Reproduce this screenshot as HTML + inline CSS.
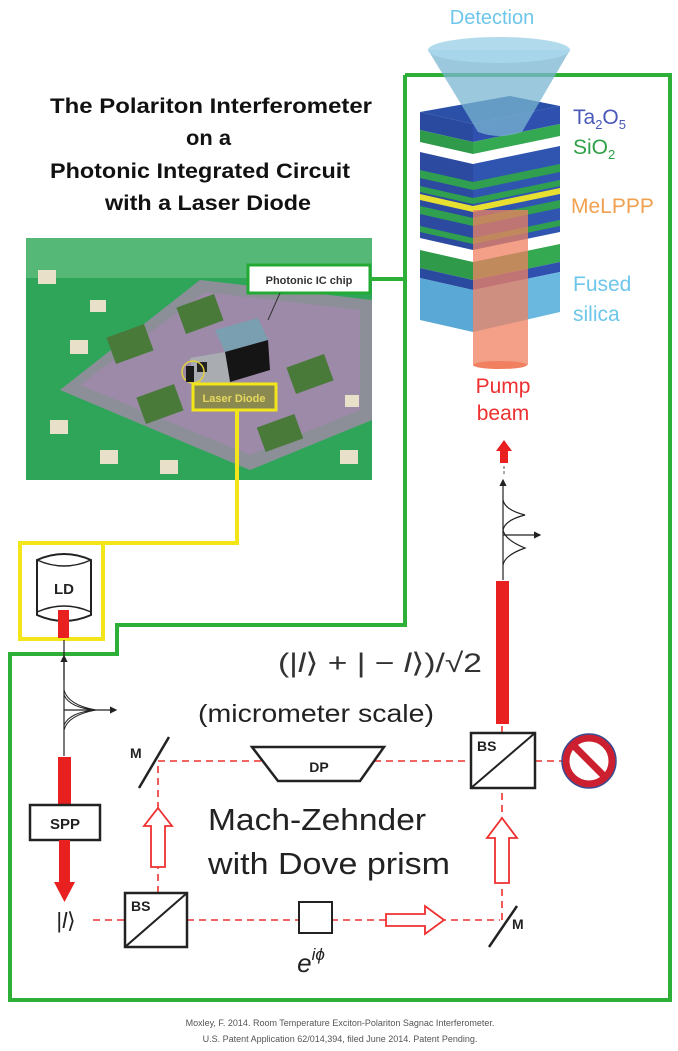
<!DOCTYPE html>
<html><head><meta charset="utf-8"><style>
html,body{margin:0;padding:0;background:#fff;}
svg{display:block;}
text{font-family:"Liberation Sans",sans-serif;}
</style></head><body>
<svg width="678" height="1051" viewBox="0 0 678 1051" xmlns="http://www.w3.org/2000/svg">
<defs>
<marker id="ah" markerWidth="6" markerHeight="6" refX="5" refY="3" orient="auto"><path d="M0,0 L6,3 L0,6 z" fill="#222"/></marker>
</defs>
<!-- Title -->
<g font-weight="bold" font-size="21" fill="#111">
<text x="50" y="113" textLength="322" lengthAdjust="spacingAndGlyphs">The Polariton Interferometer</text>
<text x="186" y="145" textLength="45" lengthAdjust="spacingAndGlyphs">on a</text>
<text x="50" y="178" textLength="300" lengthAdjust="spacingAndGlyphs">Photonic Integrated Circuit</text>
<text x="105" y="210" textLength="206" lengthAdjust="spacingAndGlyphs">with a Laser Diode</text>
</g>

<!-- Photo -->
<rect x="26" y="238" width="346" height="242" fill="#2fa55a"/>
<rect x="26" y="238" width="346" height="40" fill="#6fc48a" opacity="0.6"/>
<polygon points="60,390 200,280 372,300 372,420 250,470" fill="#8d8f98"/>
<polygon points="80,385 205,292 360,310 360,410 250,455" fill="#9c8aa8"/>
<g fill="#4a7a3a">
<rect x="110" y="330" width="40" height="28" transform="rotate(-20 130 344)"/>
<rect x="180" y="300" width="40" height="28" transform="rotate(-20 200 314)"/>
<rect x="290" y="360" width="40" height="28" transform="rotate(-20 310 374)"/>
<rect x="140" y="390" width="40" height="28" transform="rotate(-20 160 404)"/>
<rect x="260" y="420" width="40" height="26" transform="rotate(-20 280 433)"/>
</g>
<g fill="#e8e0c8">
<rect x="38" y="270" width="18" height="14"/><rect x="70" y="340" width="18" height="14"/>
<rect x="50" y="420" width="18" height="14"/><rect x="100" y="450" width="18" height="14"/>
<rect x="160" y="460" width="18" height="14"/><rect x="340" y="450" width="18" height="14"/>
<rect x="345" y="395" width="14" height="12"/><rect x="90" y="300" width="16" height="12"/>
</g>
<polygon points="215,330 258,318 268,340 225,352" fill="#7a9fb0"/>
<polygon points="225,352 268,340 270,370 230,382" fill="#151515"/>
<polygon points="190,358 225,352 230,382 195,388" fill="#a9adb2"/>
<rect x="197" y="362" width="10" height="10" fill="#222"/>
<circle cx="193" cy="372" r="11" fill="none" stroke="#e0d040" stroke-width="1.5"/>
<rect x="186" y="366" width="8" height="16" fill="#1a1a1a"/>
<rect x="248" y="265" width="122" height="28" fill="#fff" stroke="#22aa33" stroke-width="3"/>
<text x="309" y="284" font-size="11" font-weight="bold" text-anchor="middle" fill="#333">Photonic IC chip</text>
<line x1="280" y1="293" x2="268" y2="320" stroke="#333" stroke-width="1"/>
<rect x="193" y="384" width="83" height="26" fill="#8a8a50" stroke="#f2e51a" stroke-width="3"/>
<text x="234" y="402" font-size="11" font-weight="bold" text-anchor="middle" fill="#e8d860">Laser Diode</text>

<!-- Green frame -->
<polyline points="370,279 405,279" fill="none" stroke="#2eb038" stroke-width="4"/>
<polyline points="405,75 670,75 670,1000 10,1000 10,654 117,654 117,625 405,625 405,75" fill="none" stroke="#2eb038" stroke-width="4"/>
<!-- Yellow -->
<polyline points="237,410 237,543 103,543" fill="none" stroke="#f2e51a" stroke-width="4"/>
<rect x="20" y="543" width="83" height="96" fill="none" stroke="#f2e51a" stroke-width="4"/>

<text x="492" y="24" font-size="20" fill="#6ec6ea" text-anchor="middle">Detection</text>

<!-- Stack -->
<g>
<polygon points="420,112 510,96 560,106 473,124" fill="#2a50a8"/>
<polygon points="420,112 473,124 473,142 420,130" fill="#2a4aa0"/>
<polygon points="473,124 560,106 560,124 473,142" fill="#3050b0"/>
<polygon points="420,130 473,142 473,154 420,142" fill="#2f9a4a"/>
<polygon points="473,142 560,124 560,136 473,154" fill="#35a852"/>
<polygon points="420,152 473,164 473,250 420,238" fill="#2b4aa0"/>
<polygon points="473,164 560,146 560,232 473,250" fill="#2f55b0"/>
<g fill="#30a050">
<polygon points="420,170 473,182 473,190 420,178"/><polygon points="473,182 560,164 560,172 473,190"/>
<polygon points="420,186 473,198 473,204 420,192"/><polygon points="473,198 560,180 560,186 473,204"/>
<polygon points="420,206 473,218 473,226 420,214"/><polygon points="473,218 560,200 560,208 473,226"/>
<polygon points="420,226 473,238 473,244 420,232"/><polygon points="473,238 560,220 560,226 473,244"/>
</g>
<polygon points="420,194 473,206 473,212 420,200" fill="#e8e030"/>
<polygon points="473,206 560,188 560,194 473,212" fill="#e8e030"/>
<polygon points="420,250 473,262 473,280 420,268" fill="#2f9a4a"/>
<polygon points="473,262 560,244 560,262 473,280" fill="#35a852"/>
<polygon points="420,268 473,280 473,290 420,278" fill="#2a4aa0"/>
<polygon points="473,280 560,262 560,272 473,290" fill="#3050b0"/>
<polygon points="420,278 473,290 473,332 420,320" fill="#5aa8d6"/>
<polygon points="473,290 560,272 560,312 473,332" fill="#6ab8e0"/>
<rect x="473" y="210" width="55" height="155" fill="#f08060" opacity="0.75"/>
<ellipse cx="500" cy="365" rx="27" ry="4" fill="#f08060"/>
</g>
<path d="M428,50 L478,132 Q500,140 522,132 L570,50 Z" fill="#7ab6d0" opacity="0.75"/>
<ellipse cx="499" cy="50" rx="71" ry="13" fill="#a8d6ea" opacity="0.9"/>

<g font-size="21" text-anchor="start">
<text x="573" y="124" fill="#4a58b8">Ta<tspan font-size="13" dy="5">2</tspan><tspan dy="-5">O</tspan><tspan font-size="13" dy="5">5</tspan></text>
<text x="573" y="154" fill="#30a048">SiO<tspan font-size="13" dy="5">2</tspan></text>
<text x="571" y="213" fill="#f0a050">MeLPPP</text>
<text x="573" y="291" fill="#6ec6ea">Fused</text>
<text x="573" y="321" fill="#6ec6ea">silica</text>
<text x="503" y="393" fill="#ee3030" text-anchor="middle">Pump</text>
<text x="503" y="420" fill="#ee3030" text-anchor="middle">beam</text>
</g>
<polygon points="504,440 512,451 508,451 508,463 500,463 500,451 496,451" fill="#e82020"/>
<line x1="504" y1="466" x2="504" y2="474" stroke="#555" stroke-width="1" stroke-dasharray="3,2"/>
<line x1="503" y1="580" x2="503" y2="480" stroke="#222" stroke-width="1.2" marker-end="url(#ah)"/>
<path d="M503,500 Q505,510 525,515 Q505,520 503,530 Q505,540 525,548 Q505,555 503,565" fill="none" stroke="#222" stroke-width="1.2"/>
<line x1="503" y1="535" x2="540" y2="535" stroke="#222" stroke-width="1.2" marker-end="url(#ah)"/>
<rect x="496" y="581" width="13" height="143" fill="#e82020"/>

<text x="278" y="672" font-size="27" font-family="Liberation Serif,serif" fill="#333" textLength="204" lengthAdjust="spacingAndGlyphs">(|<tspan font-style="italic">l</tspan>⟩ + | − <tspan font-style="italic">l</tspan>⟩)/√2</text>
<text x="198" y="722" font-size="25" fill="#222" textLength="236" lengthAdjust="spacingAndGlyphs">(micrometer scale)</text>

<!-- LD -->
<path d="M37,560 Q64,548 91,560 L91,615 Q64,627 37,615 Z" fill="#fff" stroke="#222" stroke-width="2"/>
<path d="M37,560 Q64,572 91,560" fill="none" stroke="#222" stroke-width="1.5"/>
<path d="M37,612 Q64,600 91,612" fill="none" stroke="#222" stroke-width="1.5"/>
<text x="64" y="594" font-size="15" font-weight="bold" text-anchor="middle" fill="#222">LD</text>
<rect x="58" y="610" width="11" height="28" fill="#e82020"/>
<line x1="64" y1="640" x2="64" y2="756" stroke="#222" stroke-width="1.2"/>
<line x1="64" y1="680" x2="64" y2="656" stroke="#222" stroke-width="1.2" marker-end="url(#ah)"/>
<path d="M64,690 Q68,705 96,710 Q68,715 64,730 M64,695 Q70,708 96,710 Q70,712 64,725" fill="none" stroke="#222" stroke-width="1"/>
<line x1="64" y1="710" x2="116" y2="710" stroke="#222" stroke-width="1.2" marker-end="url(#ah)"/>
<rect x="58" y="757" width="13" height="50" fill="#e82020"/>
<rect x="30" y="805" width="70" height="35" fill="#fff" stroke="#222" stroke-width="2.5"/>
<text x="65" y="829" font-size="15" font-weight="bold" text-anchor="middle" fill="#222">SPP</text>
<rect x="59" y="840" width="11" height="44" fill="#e82020"/>
<polygon points="54,882 75,882 64.5,902" fill="#e82020"/>
<text x="66" y="928" font-size="22" font-family="Liberation Serif,serif" text-anchor="middle" fill="#222">|<tspan font-style="italic">l</tspan>⟩</text>

<g stroke="#ee3030" stroke-width="1.6" stroke-dasharray="7,5" fill="none">
<line x1="93" y1="920" x2="125" y2="920"/>
<line x1="187" y1="920" x2="500" y2="920"/>
<line x1="158" y1="893" x2="158" y2="761"/>
<line x1="158" y1="761" x2="471" y2="761"/>
<line x1="535" y1="761" x2="565" y2="761"/>
<line x1="502" y1="920" x2="502" y2="788"/>
<line x1="502" y1="733" x2="502" y2="720"/>
</g>
<rect x="125" y="893" width="62" height="54" fill="#fff" stroke="#222" stroke-width="2.5"/>
<line x1="125" y1="947" x2="187" y2="893" stroke="#222" stroke-width="2"/>
<text x="131" y="911" font-size="14" font-weight="bold" fill="#222">BS</text>
<rect x="471" y="733" width="64" height="55" fill="#fff" stroke="#222" stroke-width="2.5"/>
<line x1="471" y1="788" x2="535" y2="733" stroke="#222" stroke-width="2"/>
<text x="477" y="751" font-size="14" font-weight="bold" fill="#222">BS</text>
<rect x="299" y="902" width="33" height="31" fill="#fff" stroke="#222" stroke-width="2"/>
<text x="311" y="972" font-size="26" font-family="Liberation Serif,serif" font-style="italic" fill="#222" text-anchor="middle">e<tspan font-size="17" dy="-12">iϕ</tspan></text>
<line x1="139" y1="788" x2="169" y2="737" stroke="#222" stroke-width="2.5"/>
<text x="130" y="758" font-size="14" font-weight="bold" fill="#222">M</text>
<line x1="489" y1="947" x2="517" y2="906" stroke="#222" stroke-width="2.5"/>
<text x="512" y="929" font-size="14" font-weight="bold" fill="#222">M</text>
<polygon points="252,747 384,747 360,781 278,781" fill="#fff" stroke="#222" stroke-width="2.5"/>
<text x="319" y="772" font-size="14" font-weight="bold" text-anchor="middle" fill="#222">DP</text>
<g fill="#fff" stroke="#ee3030" stroke-width="1.8">
<polygon points="158,808 172,826 165,826 165,867 151,867 151,826 144,826"/>
<polygon points="502,818 517,838 509,838 509,883 495,883 495,838 487,838"/>
<polygon points="444,920 425,906 425,914 386,914 386,926 425,926 425,934"/>
</g>
<circle cx="589" cy="761" r="23" fill="#fff" stroke="#cc2030" stroke-width="7"/>
<line x1="573" y1="745" x2="605" y2="777" stroke="#cc2030" stroke-width="7"/>
<circle cx="589" cy="761" r="27" fill="none" stroke="#3a4a90" stroke-width="1.5"/>

<text x="208" y="830" font-size="31" fill="#222" textLength="218" lengthAdjust="spacingAndGlyphs">Mach-Zehnder</text>
<text x="208" y="874" font-size="31" fill="#222" textLength="242" lengthAdjust="spacingAndGlyphs">with Dove prism</text>

<g font-size="9" fill="#555" text-anchor="middle">
<text x="340" y="1026">Moxley, F. 2014. Room Temperature Exciton-Polariton Sagnac Interferometer.</text>
<text x="340" y="1042">U.S. Patent Application 62/014,394, filed June 2014. Patent Pending.</text>
</g>
</svg>
</body></html>
